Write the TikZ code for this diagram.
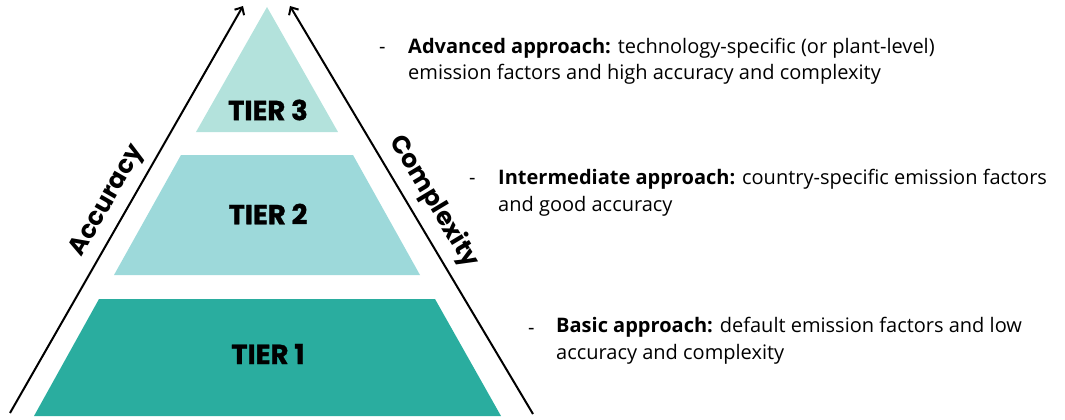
\documentclass[tikz,border=0pt]{standalone}
\usepackage{fontspec}
\setmainfont{Open Sans}
\newfontfamily\tierfont[BoldFeatures={FakeBold=1.2}]{Poppins}
\newfontfamily\axisfont{Poppins}
\usetikzlibrary{arrows.meta}
\definecolor{tthree}{HTML}{B3E2DC}
\definecolor{ttwo}{HTML}{9DD9DA}
\definecolor{tone}{HTML}{2AAD9F}
\tikzset{
  tierlabel/.style={font=\tierfont\bfseries\fontsize{27.5}{30}\selectfont, inner sep=0pt},
  axislabel/.style={font=\axisfont\bfseries\fontsize{25}{28}\selectfont, inner sep=0pt},
  desc/.style={font=\fontsize{20}{27}\selectfont, anchor=base west, inner sep=0pt, align=left},
  dashmark/.style={font=\fontsize{20}{27}\selectfont, anchor=base west, inner sep=0pt},
  axisarrow/.style={line width=2pt, -{Straight Barb[length=6pt,width=11pt,line width=2pt]}},
}
\begin{document}
\begin{tikzpicture}[x=1pt,y=-1pt]
\useasboundingbox (0,0) rectangle (1065,420);
% tiers
\fill[tthree] (267,7) -- (338,132) -- (196,132) -- cycle;
\fill[ttwo] (181,155) -- (353,155) -- (420,275) -- (114,275) -- cycle;
\fill[tone] (99,299) -- (435,299) -- (501,416) -- (34,416) -- cycle;
\node[tierlabel] (t3) at (268,110) {TIER 3};
\node[tierlabel] (t2) at (268,214) {TIER 2};
\node[tierlabel] (t1) at (268,354) {TIER 1};
% axes
\coordinate (la) at (10,413);
\coordinate (lb) at (243,6);
\coordinate (ra) at (533,414);
\coordinate (rb) at (290,6);
\draw[axisarrow] (la) -- (lb);
\draw[axisarrow] (ra) -- (rb);
\node[axislabel, rotate=60.2] (acc) at (108,201) {Accuracy};
\node[axislabel, rotate=-59] (cpx) at (434,202) {Complexity};
% descriptions
\node[dashmark] (d3) at (379,53) {-};
\node[desc] (x3) at (408,80) {\textbf{Advanced approach:} technology-specific (or plant-level)\\emission factors and high accuracy and complexity};
\node[dashmark] (d2) at (469,184) {-};
\node[desc] (x2) at (498,211) {\textbf{Intermediate approach:} country-specific emission factors\\and good accuracy};
\node[dashmark] (d1) at (528,334) {-};
\node[desc] (x1) at (556,359) {\textbf{Basic approach:} default emission factors and low\\accuracy and complexity};
\end{tikzpicture}
\end{document}
